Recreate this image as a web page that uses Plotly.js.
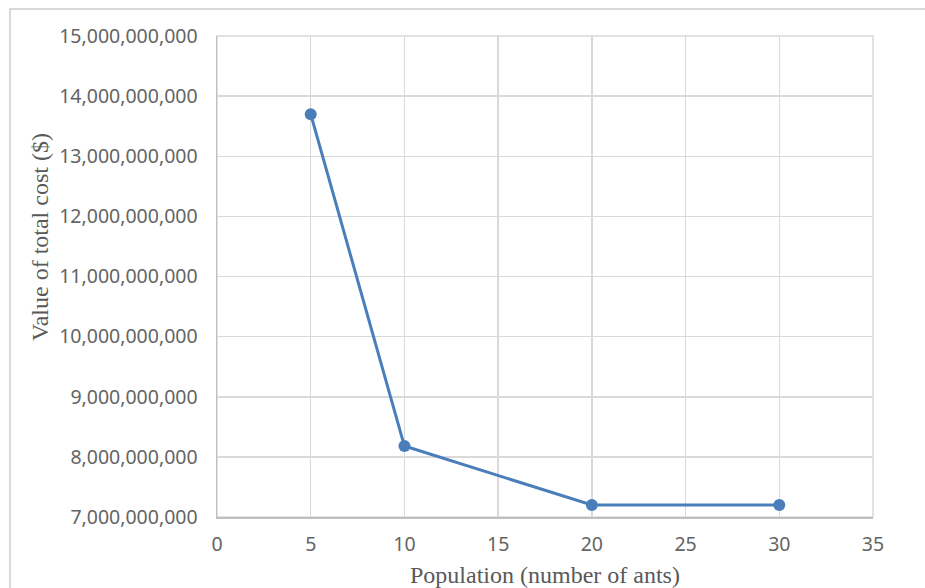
<!DOCTYPE html>
<html>
<head>
<meta charset="utf-8">
<script src="https://cdn.plot.ly/plotly-3.0.1.min.js"></script>
<style>
html,body{margin:0;padding:0;background:#fff;}
#chart{width:925px;height:588px;}
</style>
</head>
<body>
<div id="chart"></div>
<script>
const population = [5, 10, 20, 30];
const totalCost = [13700000000, 8180000000, 7200000000, 7200000000];
const xTickVals = [0, 5, 10, 15, 20, 25, 30, 35];
const xTickText = ['0', '5', '10', '15', '20', '25', '30', '35'];
const yTickVals = [7e9, 8e9, 9e9, 10e9, 11e9, 12e9, 13e9, 14e9, 15e9];
const yTickText = ['7,000,000,000', '8,000,000,000', '9,000,000,000', '10,000,000,000',
  '11,000,000,000', '12,000,000,000', '13,000,000,000', '14,000,000,000', '15,000,000,000'];
const xTitle = 'Population (number of ants)';
const yTitle = 'Value of total cost ($)';

const trace = {
  x: population,
  y: totalCost,
  type: 'scatter',
  mode: 'lines+markers',
  line: {color: '#4a7ebb', width: 3},
  marker: {color: '#4a7ebb', size: 12},
  hoverinfo: 'skip'
};

const tickFont = {family: 'Noto Sans, sans-serif', size: 19.5, color: '#646464'};
const titleFont = {family: 'Liberation Serif, serif', size: 24, color: '#595959'};

const layout = {
  width: 925, height: 588,
  margin: {l: 217, r: 52, t: 36, b: 71},
  paper_bgcolor: '#ffffff', plot_bgcolor: '#ffffff',
  showlegend: false,
  xaxis: {
    range: [0, 35], tickvals: xTickVals, ticktext: xTickText,
    showgrid: true, gridcolor: '#d9d9d9', gridwidth: 1.5,
    showline: true, linecolor: '#bfbfbf', linewidth: 1.5,
    zeroline: false, ticks: '', ticklabelstandoff: 9,
    tickfont: tickFont, fixedrange: true
  },
  yaxis: {
    range: [7e9, 15e9], tickvals: yTickVals, ticktext: yTickText,
    showgrid: true, gridcolor: '#d9d9d9', gridwidth: 1.5,
    showline: true, linecolor: '#bfbfbf', linewidth: 1.5,
    zeroline: false, ticks: '', ticklabelstandoff: 14,
    tickfont: tickFont, fixedrange: true
  },
  annotations: [
    {text: xTitle, xref: 'paper', yref: 'paper', x: 0.5, y: -0.12, xanchor: 'center', yanchor: 'middle',
     showarrow: false, font: titleFont},
    {text: yTitle, xref: 'paper', yref: 'paper', x: (40 - 217) / 656, y: (517 - 237) / 481,
     xanchor: 'center', yanchor: 'middle', textangle: -90, showarrow: false, font: titleFont}
  ],
  shapes: [
    {type: 'rect', xref: 'paper', yref: 'paper', x0: 0, x1: 1, y0: 0, y1: 1,
     line: {color: '#d9d9d9', width: 1.5}, layer: 'below'},
    {type: 'rect', xref: 'paper', yref: 'paper', x0: (10 - 217) / 656, x1: (940 - 217) / 656,
     y0: (517 - 600) / 481, y1: (517 - 9) / 481, line: {color: '#d9d9d9', width: 2}, layer: 'below'}
  ]
};

Plotly.newPlot('chart', [trace], layout, {displayModeBar: false, staticPlot: true});
</script>
</body>
</html>
